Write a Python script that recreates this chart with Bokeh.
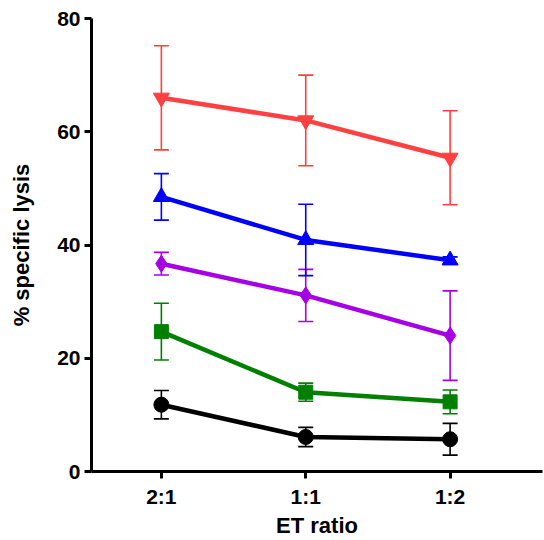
from bokeh.plotting import figure
from bokeh.models import ColumnDataSource, Whisker, TeeHead, FixedTicker, Range1d
from bokeh.embed import file_html
from bokeh.resources import INLINE

# E:T ratios on the x axis
ratios = ["2:1", "1:1", "1:2"]
xpos = [0, 1, 2]

# Mean % specific lysis and SD for each condition
black_mean = [11.8, 6.1, 5.7]
black_sd = [2.5, 1.7, 2.8]
green_mean = [24.7, 14.0, 12.3]
green_sd = [5.0, 1.6, 2.1]
purple_mean = [36.7, 31.1, 24.0]
purple_sd = [2.0, 4.6, 7.9]
blue_mean = [48.5, 40.9, 37.3]
blue_sd = [4.1, 6.3, 0.6]
red_mean = [66.0, 62.0, 55.4]
red_sd = [9.2, 8.0, 8.3]

series = [
    (black_mean, black_sd, "#000000", "circle", 15),
    (green_mean, green_sd, "#008000", "square", 14),
    (purple_mean, purple_sd, "#A600E6", "diamond", 17),
    (blue_mean, blue_sd, "#0000FF", "triangle", 16),
    (red_mean, red_sd, "#FF4040", "inverted_triangle", 16),
]

FONT = "Liberation Sans"

p = figure(
    width=544, height=540,
    x_range=Range1d(-0.484, 2.64), y_range=Range1d(0, 80),
    output_backend="svg", toolbar_location=None,
    min_border_left=91, min_border_right=2, min_border_top=18, min_border_bottom=69,
)
p.outline_line_color = None
p.xgrid.visible = False
p.ygrid.visible = False

for mean, sd, color, marker, size in series:
    src = ColumnDataSource(dict(
        x=xpos, y=mean,
        lo=[m - s for m, s in zip(mean, sd)],
        hi=[m + s for m, s in zip(mean, sd)],
    ))
    w = Whisker(
        source=src, base="x", upper="hi", lower="lo", dimension="height",
        line_color=color, line_width=1.6,
        upper_head=TeeHead(size=15, line_color=color, line_width=1.6),
        lower_head=TeeHead(size=15, line_color=color, line_width=1.6),
    )
    p.add_layout(w)
    p.line("x", "y", source=src, line_color=color, line_width=4.5)
    p.scatter("x", "y", source=src, marker=marker, size=size,
              fill_color=color, line_color=color, line_width=1)

for ax in (p.xaxis[0], p.yaxis[0]):
    ax.axis_line_width = 3
    ax.major_tick_line_width = 3
    ax.major_tick_out = 7
    ax.major_tick_in = 0
    ax.minor_tick_line_color = None
    ax.major_label_text_font = FONT
    ax.major_label_text_font_style = "bold"
    ax.major_label_text_font_size = "21px"
    ax.major_label_text_color = "#000000"
    ax.axis_label_text_font = FONT
    ax.axis_label_text_font_style = "bold"
    ax.axis_label_text_font_size = "22px"
    ax.axis_label_text_color = "#000000"

p.xaxis.ticker = FixedTicker(ticks=xpos)
p.xaxis.major_label_overrides = {x: r for x, r in zip(xpos, ratios)}
p.xaxis.axis_label = "ET ratio"
p.xaxis.major_label_standoff = 6
p.xaxis.axis_label_standoff = 2

p.yaxis.ticker = FixedTicker(ticks=[0, 20, 40, 60, 80])
p.yaxis.axis_label = "% specific lysis"
p.yaxis.major_label_standoff = 4
p.yaxis.axis_label_standoff = 20

open("out.html", "w").write(file_html(p, INLINE))
